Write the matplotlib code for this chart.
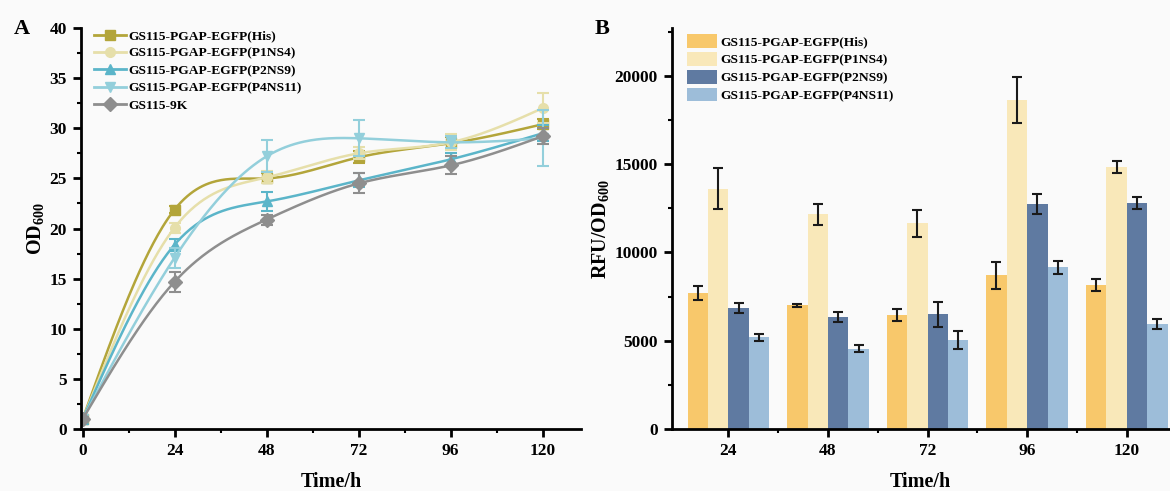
"""Growth curves (OD600) and fluorescence (RFU/OD600) of the GS115 strains."""

import matplotlib

matplotlib.use("Agg")
import matplotlib.pyplot as plt
import numpy as np
from matplotlib.ticker import MultipleLocator

plt.rcParams["font.family"] = ["Liberation Serif", "DejaVu Serif"]
plt.rcParams["font.weight"] = "bold"
plt.rcParams["mathtext.fontset"] = "custom"
plt.rcParams["mathtext.rm"] = "Liberation Serif:bold"
plt.rcParams["mathtext.bf"] = "Liberation Serif:bold"

# ---- panel A data: OD600 over time ----
time_h = [0, 24, 48, 72, 96, 120]
strains_a = [
    "GS115-PGAP-EGFP(His)",
    "GS115-PGAP-EGFP(P1NS4)",
    "GS115-PGAP-EGFP(P2NS9)",
    "GS115-PGAP-EGFP(P4NS11)",
    "GS115-9K",
]
od_his = [1.0, 21.9, 25.0, 27.1, 28.5, 30.4]
od_p1ns4 = [1.0, 20.1, 25.1, 27.5, 28.6, 32.0]
od_p2ns9 = [1.0, 18.4, 22.7, 24.8, 26.9, 29.5]
od_p4ns11 = [1.0, 17.1, 27.2, 29.0, 28.6, 29.0]
od_9k = [1.0, 14.7, 20.9, 24.5, 26.3, 29.2]
err_his = [0.2, 0.3, 0.5, 0.6, 0.6, 0.5]
err_p1ns4 = [0.2, 0.5, 0.6, 0.6, 0.8, 1.5]
err_p2ns9 = [0.2, 0.6, 0.9, 0.7, 0.6, 0.8]
err_p4ns11 = [0.2, 1.0, 1.6, 1.8, 0.6, 2.8]
err_9k = [0.2, 1.0, 0.5, 1.0, 0.9, 0.8]

# ---- panel B data: RFU/OD600 ----
time_labels = ["24", "48", "72", "96", "120"]
strains_b = strains_a[:4]
rfu_his = [7700, 7000, 6450, 8700, 8150]
rfu_p1ns4 = [13600, 12150, 11650, 18600, 14850]
rfu_p2ns9 = [6850, 6350, 6500, 12750, 12800]
rfu_p4ns11 = [5200, 4550, 5050, 9150, 5950]
rfu_err_his = [400, 80, 350, 750, 350]
rfu_err_p1ns4 = [1150, 600, 750, 1300, 350]
rfu_err_p2ns9 = [300, 300, 700, 550, 350]
rfu_err_p4ns11 = [200, 200, 500, 350, 300]


def _natural_spline(x, y, n=300):
    """Smooth connecting curve through the measured points (natural cubic spline)."""
    x = np.asarray(x, float)
    y = np.asarray(y, float)
    h = np.diff(x)
    k = len(x)
    a = np.zeros((k, k))
    b = np.zeros(k)
    a[0, 0] = a[-1, -1] = 1.0
    for i in range(1, k - 1):
        a[i, i - 1] = h[i - 1]
        a[i, i] = 2 * (h[i - 1] + h[i])
        a[i, i + 1] = h[i]
        b[i] = 6 * ((y[i + 1] - y[i]) / h[i] - (y[i] - y[i - 1]) / h[i - 1])
    m = np.linalg.solve(a, b)
    xs = np.linspace(x[0], x[-1], n)
    idx = np.clip(np.searchsorted(x, xs) - 1, 0, k - 2)
    x0, x1 = x[idx], x[idx + 1]
    hh = x1 - x0
    t0, t1 = x1 - xs, xs - x0
    ys = (
        m[idx] * t0**3 / (6 * hh)
        + m[idx + 1] * t1**3 / (6 * hh)
        + (y[idx] / hh - m[idx] * hh / 6) * t0
        + (y[idx + 1] / hh - m[idx + 1] * hh / 6) * t1
    )
    return xs, ys


def _style(axis):
    for side in ("top", "right"):
        axis.spines[side].set_visible(False)
    for side in ("left", "bottom"):
        axis.spines[side].set_linewidth(2)
    axis.tick_params(which="major", direction="out", width=2, length=6, labelsize=12.5, pad=4)
    axis.tick_params(which="minor", direction="out", width=1.5, length=3)
    axis.set_facecolor("#FAFAFA")


figure = plt.figure(figsize=(11.7, 4.91), dpi=100, facecolor="#FAFAFA")

# ---- panel A ----
axis_a = figure.add_axes([0.069, 0.126, 0.4275, 0.817])
series_a = [
    (od_his, err_his, "#B3A53A", "s"),
    (od_p1ns4, err_p1ns4, "#E6DFAA", "o"),
    (od_p2ns9, err_p2ns9, "#5BB5C9", "^"),
    (od_p4ns11, err_p4ns11, "#93CFDB", "v"),
    (od_9k, err_9k, "#8E8E8E", "D"),
]
for label, (values, errors, color, marker) in zip(strains_a, series_a):
    xs, ys = _natural_spline(time_h, values)
    axis_a.plot(xs, ys, color=color, linewidth=1.8)
    axis_a.errorbar(
        time_h, values, yerr=errors, fmt="none", ecolor=color, elinewidth=1.5, capsize=4, capthick=1.5
    )
    axis_a.plot(time_h, values, linestyle="none", marker=marker, markersize=7, color=color)
    axis_a.plot([], [], color=color, marker=marker, markersize=7, linewidth=2, label=label)
axis_a.set_xlim(-0.5, 130)
axis_a.set_ylim(0, 40)
axis_a.set_xticks(time_h)
axis_a.xaxis.set_minor_locator(MultipleLocator(12))
axis_a.yaxis.set_major_locator(MultipleLocator(5))
axis_a.yaxis.set_minor_locator(MultipleLocator(2.5))
_style(axis_a)
axis_a.set_xlabel("Time/h", fontsize=14.5, fontweight="bold", labelpad=9)
axis_a.set_ylabel("OD$_{\\mathbf{600}}$", fontsize=14.5, fontweight="bold", labelpad=2)
axis_a.legend(
    loc="upper left",
    bbox_to_anchor=(0.01, 1.015),
    frameon=False,
    fontsize=9.7,
    handlelength=2.4,
    handletextpad=0.2,
    labelspacing=0.36,
    borderaxespad=0.2,
)
figure.text(0.012, 0.93, "A", fontsize=16, fontweight="bold")

# ---- panel B ----
axis_b = figure.add_axes([0.574, 0.126, 0.4256, 0.817])
positions = np.arange(1, len(time_labels) + 1)
width = 0.205
series_b = [
    (rfu_his, rfu_err_his, "#F8C86B"),
    (rfu_p1ns4, rfu_err_p1ns4, "#F9E8B9"),
    (rfu_p2ns9, rfu_err_p2ns9, "#5F7AA1"),
    (rfu_p4ns11, rfu_err_p4ns11, "#9DBDD9"),
]
for i, (label, (values, errors, color)) in enumerate(zip(strains_b, series_b)):
    offset = (i - 1.5) * width
    axis_b.bar(
        positions + offset,
        values,
        width,
        color=color,
        yerr=errors,
        capsize=3.5,
        error_kw={"elinewidth": 1.5, "capthick": 1.5, "ecolor": "#1A1A1A"},
        label=label,
    )
axis_b.set_xlim(0.43, 5.43)
axis_b.set_ylim(0, 22700)
axis_b.set_xticks(positions, time_labels)
axis_b.set_xticks(positions[:-1] + 0.5, minor=True)
axis_b.yaxis.set_major_locator(MultipleLocator(5000))
axis_b.yaxis.set_minor_locator(MultipleLocator(2500))
_style(axis_b)
axis_b.set_xlabel("Time/h", fontsize=14.5, fontweight="bold", labelpad=9)
axis_b.set_ylabel("RFU/OD$_{\\mathbf{600}}$", fontsize=14.5, fontweight="bold", labelpad=2)
axis_b.legend(
    loc="upper left",
    bbox_to_anchor=(0.015, 1.005),
    frameon=False,
    fontsize=9.7,
    handlelength=2.2,
    handleheight=1.2,
    handletextpad=0.3,
    labelspacing=0.25,
    borderaxespad=0.2,
)
figure.text(0.508, 0.93, "B", fontsize=16, fontweight="bold")

figure.savefig("out.png", dpi=100, facecolor=figure.get_facecolor())
plt.close(figure)
